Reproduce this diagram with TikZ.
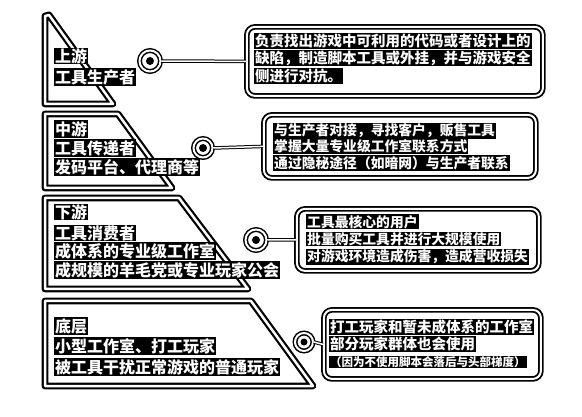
\documentclass[tikz,border=0pt]{standalone}
\usepackage{fontspec}
\setmainfont{Noto Sans CJK SC}
\usetikzlibrary{positioning}
\newcommand{\leftX}{45}
\newcommand{\textX}{54}
\newcommand{\bigFont}{\fontsize{16}{16}\selectfont\bfseries}
\newcommand{\boxFont}{\fontsize{14.5}{14.5}\selectfont\bfseries}
\newcommand{\midFont}{\fontsize{13.8}{13.8}\selectfont\bfseries}
\newcommand{\smallFont}{\fontsize{11.5}{11.5}\selectfont\bfseries}

\begin{document}
\begin{tikzpicture}[x=1pt,y=-1pt,
    layer/.style={draw=black,line width=2.2pt,double=white,double distance=2.5pt,line join=round},
    infobox/.style={draw=black,line width=1.8pt,double=white,double distance=2pt,rounded corners=8pt,anchor=north west},
    ring/.style={circle,draw=black,line width=1.5pt,double=white,double distance=2pt,fill=white,inner sep=0pt},
    link/.style={draw=black,line width=1pt,double=white,double distance=1.5pt},
    hl/.style={fill=black,text=white,inner xsep=1pt,inner ysep=0.8pt,anchor=west,font=\boxFont},
    hlmid/.style={hl,font=\midFont},
    hlbig/.style={hl,font=\bigFont}]
\useasboundingbox (0,0) rectangle (582,417);

% pyramid layers
\draw[layer] (\leftX,104) -- (\leftX,16) -- (49,15) -- (113,104) -- cycle;
\draw[layer] (\leftX,114) -- (118,114) -- (172,188) -- (\leftX,188) -- cycle;
\draw[layer] (\leftX,198) -- (179,198) -- (248,289) -- (\leftX,289) -- cycle;
\draw[layer] (\leftX,301) -- (251,301) -- (313,386) -- (\leftX,386) -- cycle;

% layer texts
\node[hlbig] (up1) at (\textX,56) {上游};
\node[hlbig] (up2) at (\textX,77) {工具生产者};
\node[hlbig] (mid1) at (\textX,129) {中游};
\node[hlbig] (mid2) at (\textX,148) {工具传递者};
\node[hlbig] (mid3) at (\textX,167) {发码平台、代理商等};
\node[hlbig] (down1) at (\textX,212) {下游};
\node[hlbig] (down2) at (\textX,233) {工具消费者};
\node[hlbig] (down3) at (\textX,251) {成体系的专业级工作室};
\node[hlbig] (down4) at (\textX,270) {成规模的羊毛党或专业玩家公会};
\node[hlbig] (base1) at (\textX,326) {底层};
\node[hlbig] (base2) at (\textX,346) {小型工作室、打工玩家};
\node[hlbig] (base3) at (\textX,367) {被工具干扰正常游戏的普通玩家};

% info boxes
\node[infobox,minimum width=296pt,minimum height=69pt] (upBox) at (246,26) {};
\node[infobox,minimum width=272pt,minimum height=63pt] (midBox) at (263,114) {};
\node[infobox,minimum width=242pt,minimum height=62pt] (downBox) at (296,208) {};
\node[infobox,minimum width=217pt,minimum height=69pt] (baseBox) at (323,309) {};

\node[hl] (upInfo1) at (254,41) {负责找出游戏中可利用的代码或者设计上的};
\node[hl] (upInfo2) at (254,58) {缺陷，制造脚本工具或外挂，并与游戏安全};
\node[hl] (upInfo3) at (254,76) {侧进行对抗。};
\node[hlmid] (midInfo1) at (273,131) {与生产者对接，寻找客户，贩售工具};
\node[hlmid] (midInfo2) at (273,146) {掌握大量专业级工作室联系方式};
\node[hlmid] (midInfo3) at (273,163) {通过隐秘途径（如暗网）与生产者联系};
\node[hlmid] (downInfo1) at (306,222) {工具最核心的用户};
\node[hlmid] (downInfo2) at (306,239) {批量购买工具并进行大规模使用};
\node[hlmid] (downInfo3) at (306,257) {对游戏环境造成伤害，造成营收损失};
\node[hl] (baseInfo1) at (329,327) {打工玩家和暂未成体系的工作室};
\node[hl] (baseInfo2) at (329,344) {部分玩家群体也会使用};
\node[hl,font=\smallFont] (baseInfo3) at (329,362) {（因为不使用脚本会落后与头部梯度）};

% connectors
\node[ring,minimum size=21pt] (upDot) at (150,61) {};
\node[ring,minimum size=19pt] (midDot) at (203,148) {};
\node[ring,minimum size=21pt] (downDot) at (256,240) {};
\node[ring,minimum size=18pt] (baseDot) at (304,342) {};
\fill (upDot.center) circle (4);
\fill (midDot.center) circle (4);
\fill (downDot.center) circle (4);
\fill (baseDot.center) circle (3.5);
\draw[link] (upDot.east) -- (upBox.west);
\draw[link] (midDot.east) -- (midBox.west);
\draw[link] (downDot.east) -- (downBox.west);
\draw[link] (baseDot.east) -- (baseBox.west);
\end{tikzpicture}
\end{document}
